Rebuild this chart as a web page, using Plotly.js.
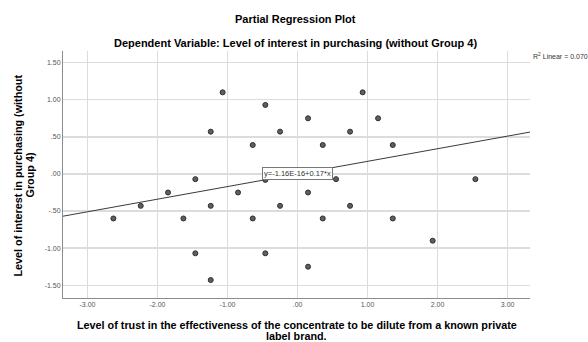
<!DOCTYPE html>
<html>
<head>
<meta charset="utf-8">
<script src="https://cdn.plot.ly/plotly-3.0.1.min.js"></script>
<style>
  html, body { margin: 0; padding: 0; background: #fff; }
  #chart { width: 588px; height: 342px; }
</style>
</head>
<body>
<div id="chart"></div>
<script>
// Partial residuals: trust in concentrate (x) vs. interest in purchasing (y)
const trustResid = [
  -1.07, -0.46, 0.15, -1.24, -0.25, -0.64, 0.36, -1.46, -0.46, -1.85,
  -0.85, 0.15, -2.24, -1.24, -0.25, -2.63, -1.63, -0.64, 0.36, -1.46,
  -0.46, 0.15, -1.24, 0.93, 1.15, 0.75, 1.36, 0.55, 2.54, 0.75,
  1.36, 1.93
];
const interestResid = [
  1.10, 0.93, 0.75, 0.57, 0.57, 0.39, 0.39, -0.07, -0.08, -0.25,
  -0.25, -0.25, -0.43, -0.43, -0.43, -0.60, -0.60, -0.60, -0.60, -1.07,
  -1.07, -1.25, -1.43, 1.10, 0.75, 0.57, 0.39, -0.07, -0.07, -0.43,
  -0.60, -0.90
];

// Fitted line
const fitIntercept = -1.16e-16;
const fitSlope = 0.17;
const fitLabel = "y=-1.16E-16+0.17*x";
const r2Label = "R<sup>2</sup> Linear = 0.070";

// Axis ticks
const xTickVals = [-3, -2, -1, 0, 1, 2, 3];
const xTickText = ["-3.00", "-2.00", "-1.00", ".00", "1.00", "2.00", "3.00"];
const yTickVals = [1.5, 1, 0.5, 0, -0.5, -1, -1.5];
const yTickText = ["1.50", "1.00", ".50", ".00", "-.50", "-1.00", "-1.50"];

// Titles (each line set separately for tight line spacing)
const chartTitle = "Partial Regression Plot";
const chartSubtitle = "Dependent Variable: Level of interest in purchasing (without Group 4)";
const xTitleLines = [
  "Level of trust in the effectiveness of the concentrate to be dilute from a known private",
  "label brand."
];
const yTitleLines = ["Level of interest in purchasing (without", "Group 4)"];

const xRange = [-3.35, 3.32];
const yRange = [-1.672, 1.657];

const fitX = xRange.slice();
const fitY = fitX.map(v => fitIntercept + fitSlope * v);

const FONT = "Liberation Sans, Arial, sans-serif";

const traces = [
  {
    x: fitX, y: fitY, type: "scatter", mode: "lines",
    line: { color: "#3a3a3a", width: 1 },
    hoverinfo: "skip", showlegend: false
  },
  {
    x: trustResid, y: interestResid, type: "scatter", mode: "markers",
    marker: { size: 5, color: "#5f5f5f", line: { color: "#2e2e2e", width: 1 } },
    showlegend: false
  }
];

const titleFont = { size: 11, family: FONT, color: "#000" };
const axisTitleFont = { size: 10.8, family: FONT, color: "#000" };

const annotations = [
  {
    text: "<b>" + chartTitle + "</b>", xref: "paper", yref: "paper",
    x: 0.497, y: 1, yshift: 32, yanchor: "middle", showarrow: false, font: titleFont
  },
  {
    text: "<b>" + chartSubtitle + "</b>", xref: "paper", yref: "paper",
    x: 0.497, y: 1, yshift: 8, yanchor: "middle", showarrow: false, font: titleFont
  },
  {
    text: r2Label, xref: "paper", yref: "paper", x: 1, y: 1, xshift: 1, yshift: -5,
    xanchor: "left", yanchor: "middle", showarrow: false,
    font: { size: 7, family: FONT, color: "#333" }
  },
  {
    text: fitLabel, xref: "x", yref: "y", x: 0, y: fitIntercept,
    showarrow: false, bgcolor: "#fff", bordercolor: "#777", borderwidth: 1,
    borderpad: 1, font: { size: 7.5, family: FONT, color: "#333" }
  }
];

xTitleLines.forEach((line, i) => {
  annotations.push({
    text: "<b>" + line + "</b>", xref: "paper", yref: "paper",
    x: 0.5, y: 0, yshift: -27 - 11 * i, xanchor: "center", yanchor: "middle",
    showarrow: false, font: axisTitleFont
  });
});

yTitleLines.forEach((line, i) => {
  annotations.push({
    text: "<b>" + line + "</b>", xref: "paper", yref: "paper",
    x: 0, y: 0.5, xshift: -46 + 12 * i, yshift: -1, textangle: -90,
    xanchor: "center", yanchor: "middle", showarrow: false, font: axisTitleFont
  });
});

const layout = {
  width: 588, height: 342,
  margin: { l: 63, r: 58, t: 51, b: 44 },
  paper_bgcolor: "#fff", plot_bgcolor: "#fff",
  font: { family: FONT, color: "#000" },
  showlegend: false,
  xaxis: {
    range: xRange, tickvals: xTickVals, ticktext: xTickText,
    showgrid: true, gridcolor: "#dcdcdc", gridwidth: 1.3,
    zeroline: false, showline: true, linecolor: "#8c8c8c", linewidth: 1,
    ticks: "", tickfont: { size: 7, color: "#555", family: FONT }
  },
  yaxis: {
    range: yRange, tickvals: yTickVals, ticktext: yTickText,
    showgrid: true, gridcolor: "#dcdcdc", gridwidth: 1.3,
    zeroline: false, showline: true, linecolor: "#8c8c8c", linewidth: 1,
    ticks: "", tickfont: { size: 7, color: "#555", family: FONT }
  },
  annotations: annotations
};

Plotly.newPlot("chart", traces, layout, { displayModeBar: false, staticPlot: true });
</script>
</body>
</html>
